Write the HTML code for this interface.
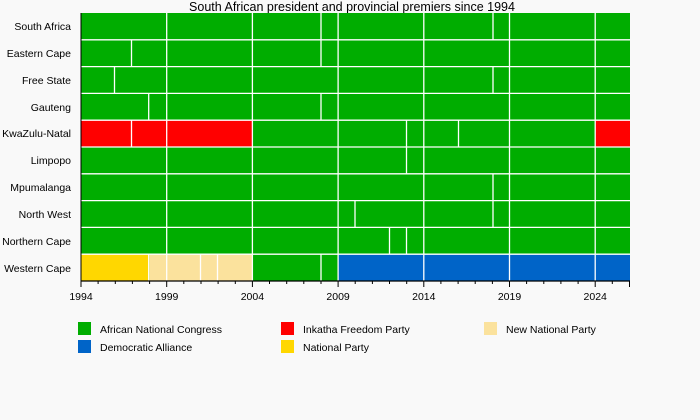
<!DOCTYPE html>
<html><head><style>
body{margin:0;background:#f9f9f9;}
svg{display:block;font-family:"Liberation Sans",sans-serif;}
</style></head><body>
<svg width="700" height="420" xmlns="http://www.w3.org/2000/svg">
<rect width="700" height="420" fill="#f9f9f9"/>
<text x="352" y="11" font-size="12.5" text-anchor="middle" fill="#000">South African president and provincial premiers since 1994</text>
<!-- x(y)=81+(y-1994)*17.14 -->
<g id="bars">
<rect x="81" y="13" width="549" height="268" fill="#00ad00"/>
<rect x="81" y="120.2" width="171.4" height="26.8" fill="#ff0000"/>
<rect x="595.3" y="120.2" width="34.7" height="26.8" fill="#ff0000"/>
<rect x="81" y="254.2" width="68.6" height="26.8" fill="#ffd700"/>
<rect x="149.6" y="254.2" width="102.8" height="26.8" fill="#fbe29d"/>
<rect x="337.9" y="254.2" width="292.1" height="26.8" fill="#0064c8"/>
</g>
<g stroke="#fff" stroke-width="1.3">
<!-- row separators -->
<line x1="81" x2="630" y1="39.8" y2="39.8"/><line x1="81" x2="630" y1="66.6" y2="66.6"/>
<line x1="81" x2="630" y1="93.4" y2="93.4"/><line x1="81" x2="630" y1="120.2" y2="120.2"/>
<line x1="81" x2="630" y1="147" y2="147"/><line x1="81" x2="630" y1="173.8" y2="173.8"/>
<line x1="81" x2="630" y1="200.6" y2="200.6"/><line x1="81" x2="630" y1="227.4" y2="227.4"/>
<line x1="81" x2="630" y1="254.2" y2="254.2"/>
<!-- grid -->
<line x1="166.7" x2="166.7" y1="13" y2="281"/><line x1="252.4" x2="252.4" y1="13" y2="281"/>
<line x1="338.1" x2="338.1" y1="13" y2="281"/><line x1="423.8" x2="423.8" y1="13" y2="281"/>
<line x1="509.5" x2="509.5" y1="13" y2="281"/><line x1="595.2" x2="595.2" y1="13" y2="281"/>
<!-- segment borders -->
<line x1="321" x2="321" y1="13" y2="39.8"/><line x1="493" x2="493" y1="13" y2="39.8"/>
<line x1="131.5" x2="131.5" y1="39.8" y2="66.6"/><line x1="321" x2="321" y1="39.8" y2="66.6"/>
<line x1="114.5" x2="114.5" y1="66.6" y2="93.4"/><line x1="493" x2="493" y1="66.6" y2="93.4"/>
<line x1="148.7" x2="148.7" y1="93.4" y2="120.2"/><line x1="321" x2="321" y1="93.4" y2="120.2"/>
<line x1="131.5" x2="131.5" y1="120.2" y2="147"/><line x1="406.5" x2="406.5" y1="120.2" y2="147"/><line x1="458.5" x2="458.5" y1="120.2" y2="147"/>
<line x1="406.5" x2="406.5" y1="147" y2="173.8"/>
<line x1="493" x2="493" y1="173.8" y2="200.6"/>
<line x1="355" x2="355" y1="200.6" y2="227.4"/><line x1="493" x2="493" y1="200.6" y2="227.4"/>
<line x1="389.5" x2="389.5" y1="227.4" y2="254.2"/><line x1="406.5" x2="406.5" y1="227.4" y2="254.2"/>
<line x1="148.7" x2="148.7" y1="254.2" y2="281"/><line x1="200.5" x2="200.5" y1="254.2" y2="281"/><line x1="217.5" x2="217.5" y1="254.2" y2="281"/><line x1="321" x2="321" y1="254.2" y2="281"/>
</g>
<!-- axis -->
<line x1="81" x2="630" y1="281" y2="281" stroke="#000" stroke-width="1.3"/>
<line x1="81" x2="81" y1="13" y2="281" stroke="#000" stroke-width="1"/>
<g stroke="#000" stroke-width="1">
<line x1="81" x2="81" y1="281" y2="287"/>
<line x1="98.1" x2="98.1" y1="281" y2="284"/><line x1="115.3" x2="115.3" y1="281" y2="284"/><line x1="132.4" x2="132.4" y1="281" y2="284"/><line x1="149.6" x2="149.6" y1="281" y2="284"/>
<line x1="166.7" x2="166.7" y1="281" y2="287"/>
<line x1="183.8" x2="183.8" y1="281" y2="284"/><line x1="201" x2="201" y1="281" y2="284"/><line x1="218.1" x2="218.1" y1="281" y2="284"/><line x1="235.3" x2="235.3" y1="281" y2="284"/>
<line x1="252.4" x2="252.4" y1="281" y2="287"/>
<line x1="269.5" x2="269.5" y1="281" y2="284"/><line x1="286.7" x2="286.7" y1="281" y2="284"/><line x1="303.8" x2="303.8" y1="281" y2="284"/><line x1="321" x2="321" y1="281" y2="284"/>
<line x1="338.1" x2="338.1" y1="281" y2="287"/>
<line x1="355.2" x2="355.2" y1="281" y2="284"/><line x1="372.4" x2="372.4" y1="281" y2="284"/><line x1="389.5" x2="389.5" y1="281" y2="284"/><line x1="406.7" x2="406.7" y1="281" y2="284"/>
<line x1="423.8" x2="423.8" y1="281" y2="287"/>
<line x1="440.9" x2="440.9" y1="281" y2="284"/><line x1="458.1" x2="458.1" y1="281" y2="284"/><line x1="475.2" x2="475.2" y1="281" y2="284"/><line x1="492.4" x2="492.4" y1="281" y2="284"/>
<line x1="509.5" x2="509.5" y1="281" y2="287"/>
<line x1="526.6" x2="526.6" y1="281" y2="284"/><line x1="543.8" x2="543.8" y1="281" y2="284"/><line x1="560.9" x2="560.9" y1="281" y2="284"/><line x1="578.1" x2="578.1" y1="281" y2="284"/>
<line x1="595.2" x2="595.2" y1="281" y2="287"/>
<line x1="612.3" x2="612.3" y1="281" y2="284"/><line x1="629.5" x2="629.5" y1="281" y2="287"/>
</g>
<g font-size="10.5" fill="#000" text-anchor="middle">
<text x="81" y="300">1994</text><text x="166.7" y="300">1999</text><text x="252.4" y="300">2004</text>
<text x="338.1" y="300">2009</text><text x="423.8" y="300">2014</text><text x="509.5" y="300">2019</text><text x="595.2" y="300">2024</text>
</g>
<g font-size="10.5" fill="#000" text-anchor="end">
<text x="71" y="30">South Africa</text><text x="71" y="57">Eastern Cape</text><text x="71" y="84">Free State</text>
<text x="71" y="111">Gauteng</text><text x="71" y="137">KwaZulu-Natal</text><text x="71" y="164">Limpopo</text>
<text x="71" y="191">Mpumalanga</text><text x="71" y="218">North West</text><text x="71" y="245">Northern Cape</text>
<text x="71" y="272">Western Cape</text>
</g>
<g font-size="10.5" fill="#000">
<rect x="78" y="322" width="13" height="13" fill="#00ad00"/><text x="100" y="333">African National Congress</text>
<rect x="78" y="340" width="13" height="13" fill="#0064c8"/><text x="100" y="351">Democratic Alliance</text>
<rect x="281" y="322" width="13" height="13" fill="#ff0000"/><text x="303" y="333">Inkatha Freedom Party</text>
<rect x="281" y="340" width="13" height="13" fill="#ffd700"/><text x="303" y="351">National Party</text>
<rect x="484" y="322" width="13" height="13" fill="#fbe29d"/><text x="506" y="333">New National Party</text>
</g>
</svg>
</body></html>
